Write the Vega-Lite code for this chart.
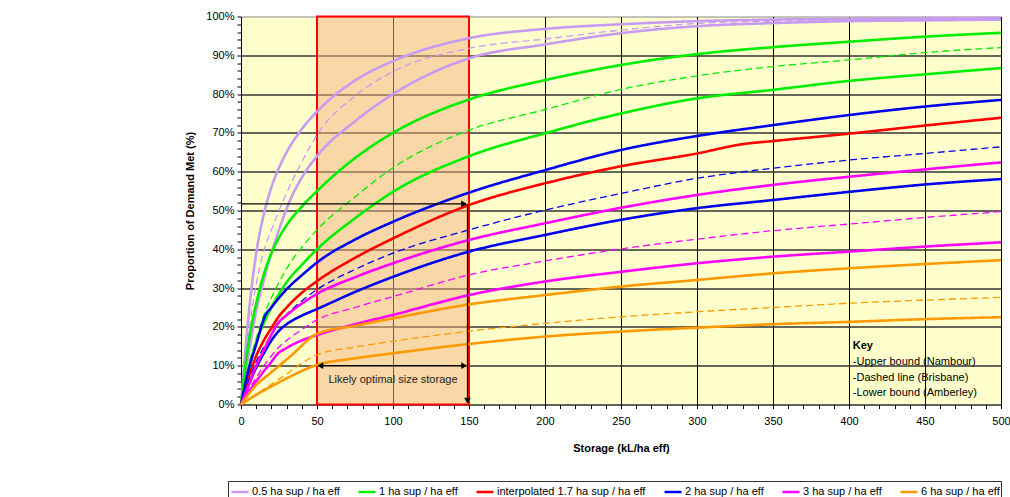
{
  "$schema": "https://vega.github.io/schema/vega-lite/v6.json",
  "width": 760,
  "height": 388,
  "autosize": {"type": "none"},
  "padding": {"left": 241, "top": 16.5, "right": 9, "bottom": 92.5},
  "background": "white",
  "config": {
    "font": "Liberation Sans",
    "view": {"fill": "#FFFFCC", "stroke": "#888888", "strokeWidth": 1}
  },
  "data": {"values": [{"a": 1}]},
  "layer": [
    {
      "mark": {"type": "rect", "fill": "#F5B07F", "fillOpacity": 0.5, "stroke": "#FF0000", "strokeWidth": 2},
      "encoding": {
        "x": {"datum": 50, "type": "quantitative", "scale": {"domain": [0, 500], "nice": false, "zero": false},
          "axis": {
            "title": "Storage (kL/ha eff)", "titleFontSize": 11, "titleFontWeight": "bold", "titleColor": "black", "titlePadding": 16,
            "values": [0,10,20,30,40,50,60,70,80,90,100,110,120,130,140,150,160,170,180,190,200,210,220,230,240,250,260,270,280,290,300,310,320,330,340,350,360,370,380,390,400,410,420,430,440,450,460,470,480,490,500],
            "tickCount": 200,
            "labelExpr": "datum.value % 50 === 0 ? datum.value : ''",
            "labelOverlap": false,
            "labelFontSize": 11, "labelColor": "black", "labelPadding": 7, "labelFlush": false,
            "tickSize": 4, "tickColor": "black", "domainColor": "black",
            "grid": true, "gridColor": "black", "gridWidth": 1,
            "gridOpacity": {"condition": {"test": "datum.value % 50 === 0", "value": 1}, "value": 0}
          }},
        "x2": {"datum": 150},
        "y": {"datum": 0, "type": "quantitative", "scale": {"domain": [0, 100], "nice": false},
          "axis": {
            "title": "Proportion of Demand Met (%)", "titleFontSize": 11, "titleFontWeight": "bold", "titleColor": "black", "titlePadding": 10,
            "values": [0,2,4,6,8,10,12,14,16,18,20,22,24,26,28,30,32,34,36,38,40,42,44,46,48,50,52,54,56,58,60,62,64,66,68,70,72,74,76,78,80,82,84,86,88,90,92,94,96,98,100],
            "tickCount": 200,
            "labelExpr": "datum.value % 10 === 0 ? datum.value + '%' : ''",
            "labelOverlap": false,
            "labelFontSize": 11, "labelColor": "black", "labelPadding": 3, "labelFlush": false,
            "tickSize": 4, "tickColor": "black", "domainColor": "black",
            "grid": true, "gridColor": "#333333", "gridWidth": 1.4,
            "gridOpacity": {"condition": {"test": "datum.value % 10 === 0 && datum.value > 0 && datum.value < 100", "value": 1}, "value": 0}
          }},
        "y2": {"datum": 100}
      }
    },
    {
      "data": {"values": [
        {"s":"0.5 ha sup / ha eff","b":"upper","x":0,"y":0},{"s":"0.5 ha sup / ha eff","b":"upper","x":5,"y":23},{"s":"0.5 ha sup / ha eff","b":"upper","x":10,"y":39},{"s":"0.5 ha sup / ha eff","b":"upper","x":15,"y":49},{"s":"0.5 ha sup / ha eff","b":"upper","x":20,"y":56},{"s":"0.5 ha sup / ha eff","b":"upper","x":25,"y":61},{"s":"0.5 ha sup / ha eff","b":"upper","x":30,"y":65},{"s":"0.5 ha sup / ha eff","b":"upper","x":40,"y":71},{"s":"0.5 ha sup / ha eff","b":"upper","x":50,"y":75.5},{"s":"0.5 ha sup / ha eff","b":"upper","x":75,"y":83.5},{"s":"0.5 ha sup / ha eff","b":"upper","x":100,"y":88.5},{"s":"0.5 ha sup / ha eff","b":"upper","x":150,"y":94.4},{"s":"0.5 ha sup / ha eff","b":"upper","x":200,"y":96.8},{"s":"0.5 ha sup / ha eff","b":"upper","x":250,"y":98},{"s":"0.5 ha sup / ha eff","b":"upper","x":300,"y":98.8},{"s":"0.5 ha sup / ha eff","b":"upper","x":350,"y":99.2},{"s":"0.5 ha sup / ha eff","b":"upper","x":400,"y":99.4},{"s":"0.5 ha sup / ha eff","b":"upper","x":450,"y":99.5},{"s":"0.5 ha sup / ha eff","b":"upper","x":500,"y":99.6},
        {"s":"0.5 ha sup / ha eff","b":"dashed","x":0,"y":0},{"s":"0.5 ha sup / ha eff","b":"dashed","x":5,"y":18},{"s":"0.5 ha sup / ha eff","b":"dashed","x":10,"y":31},{"s":"0.5 ha sup / ha eff","b":"dashed","x":15,"y":39.5},{"s":"0.5 ha sup / ha eff","b":"dashed","x":20,"y":45},{"s":"0.5 ha sup / ha eff","b":"dashed","x":25,"y":50},{"s":"0.5 ha sup / ha eff","b":"dashed","x":30,"y":54.5},{"s":"0.5 ha sup / ha eff","b":"dashed","x":40,"y":62.5},{"s":"0.5 ha sup / ha eff","b":"dashed","x":50,"y":69.5},{"s":"0.5 ha sup / ha eff","b":"dashed","x":75,"y":79.5},{"s":"0.5 ha sup / ha eff","b":"dashed","x":100,"y":85.8},{"s":"0.5 ha sup / ha eff","b":"dashed","x":150,"y":91.8},{"s":"0.5 ha sup / ha eff","b":"dashed","x":200,"y":94.2},{"s":"0.5 ha sup / ha eff","b":"dashed","x":250,"y":96.5},{"s":"0.5 ha sup / ha eff","b":"dashed","x":300,"y":98.2},{"s":"0.5 ha sup / ha eff","b":"dashed","x":350,"y":98.8},{"s":"0.5 ha sup / ha eff","b":"dashed","x":400,"y":99.1},{"s":"0.5 ha sup / ha eff","b":"dashed","x":450,"y":99.2},{"s":"0.5 ha sup / ha eff","b":"dashed","x":500,"y":99.3},
        {"s":"0.5 ha sup / ha eff","b":"lower","x":0,"y":0},{"s":"0.5 ha sup / ha eff","b":"lower","x":5,"y":13},{"s":"0.5 ha sup / ha eff","b":"lower","x":10,"y":24},{"s":"0.5 ha sup / ha eff","b":"lower","x":15,"y":32},{"s":"0.5 ha sup / ha eff","b":"lower","x":20,"y":39},{"s":"0.5 ha sup / ha eff","b":"lower","x":25,"y":45},{"s":"0.5 ha sup / ha eff","b":"lower","x":30,"y":50.5},{"s":"0.5 ha sup / ha eff","b":"lower","x":40,"y":58.5},{"s":"0.5 ha sup / ha eff","b":"lower","x":50,"y":64},{"s":"0.5 ha sup / ha eff","b":"lower","x":75,"y":73},{"s":"0.5 ha sup / ha eff","b":"lower","x":100,"y":80},{"s":"0.5 ha sup / ha eff","b":"lower","x":150,"y":89.2},{"s":"0.5 ha sup / ha eff","b":"lower","x":200,"y":92.8},{"s":"0.5 ha sup / ha eff","b":"lower","x":250,"y":95.7},{"s":"0.5 ha sup / ha eff","b":"lower","x":300,"y":97.5},{"s":"0.5 ha sup / ha eff","b":"lower","x":350,"y":98.3},{"s":"0.5 ha sup / ha eff","b":"lower","x":400,"y":98.8},{"s":"0.5 ha sup / ha eff","b":"lower","x":450,"y":99},{"s":"0.5 ha sup / ha eff","b":"lower","x":500,"y":99.2},
        {"s":"1 ha sup / ha eff","b":"upper","x":0,"y":0},{"s":"1 ha sup / ha eff","b":"upper","x":5,"y":16},{"s":"1 ha sup / ha eff","b":"upper","x":10,"y":26},{"s":"1 ha sup / ha eff","b":"upper","x":15,"y":33.5},{"s":"1 ha sup / ha eff","b":"upper","x":20,"y":39},{"s":"1 ha sup / ha eff","b":"upper","x":25,"y":43},{"s":"1 ha sup / ha eff","b":"upper","x":30,"y":46.2},{"s":"1 ha sup / ha eff","b":"upper","x":40,"y":51},{"s":"1 ha sup / ha eff","b":"upper","x":50,"y":55},{"s":"1 ha sup / ha eff","b":"upper","x":75,"y":63.5},{"s":"1 ha sup / ha eff","b":"upper","x":100,"y":70},{"s":"1 ha sup / ha eff","b":"upper","x":150,"y":78.6},{"s":"1 ha sup / ha eff","b":"upper","x":200,"y":83.6},{"s":"1 ha sup / ha eff","b":"upper","x":250,"y":87.5},{"s":"1 ha sup / ha eff","b":"upper","x":300,"y":90.3},{"s":"1 ha sup / ha eff","b":"upper","x":350,"y":92.1},{"s":"1 ha sup / ha eff","b":"upper","x":400,"y":93.5},{"s":"1 ha sup / ha eff","b":"upper","x":450,"y":94.8},{"s":"1 ha sup / ha eff","b":"upper","x":500,"y":95.8},
        {"s":"1 ha sup / ha eff","b":"dashed","x":0,"y":0},{"s":"1 ha sup / ha eff","b":"dashed","x":5,"y":10},{"s":"1 ha sup / ha eff","b":"dashed","x":10,"y":17},{"s":"1 ha sup / ha eff","b":"dashed","x":15,"y":23},{"s":"1 ha sup / ha eff","b":"dashed","x":20,"y":27.5},{"s":"1 ha sup / ha eff","b":"dashed","x":25,"y":31.5},{"s":"1 ha sup / ha eff","b":"dashed","x":30,"y":35},{"s":"1 ha sup / ha eff","b":"dashed","x":40,"y":40.5},{"s":"1 ha sup / ha eff","b":"dashed","x":50,"y":45},{"s":"1 ha sup / ha eff","b":"dashed","x":75,"y":53.5},{"s":"1 ha sup / ha eff","b":"dashed","x":100,"y":61},{"s":"1 ha sup / ha eff","b":"dashed","x":150,"y":70.7},{"s":"1 ha sup / ha eff","b":"dashed","x":200,"y":76},{"s":"1 ha sup / ha eff","b":"dashed","x":250,"y":81.2},{"s":"1 ha sup / ha eff","b":"dashed","x":300,"y":84.7},{"s":"1 ha sup / ha eff","b":"dashed","x":350,"y":87.1},{"s":"1 ha sup / ha eff","b":"dashed","x":400,"y":88.8},{"s":"1 ha sup / ha eff","b":"dashed","x":450,"y":90.7},{"s":"1 ha sup / ha eff","b":"dashed","x":500,"y":92},
        {"s":"1 ha sup / ha eff","b":"lower","x":0,"y":0},{"s":"1 ha sup / ha eff","b":"lower","x":5,"y":9},{"s":"1 ha sup / ha eff","b":"lower","x":10,"y":16},{"s":"1 ha sup / ha eff","b":"lower","x":15,"y":21},{"s":"1 ha sup / ha eff","b":"lower","x":20,"y":25},{"s":"1 ha sup / ha eff","b":"lower","x":25,"y":28.5},{"s":"1 ha sup / ha eff","b":"lower","x":30,"y":31.5},{"s":"1 ha sup / ha eff","b":"lower","x":40,"y":36},{"s":"1 ha sup / ha eff","b":"lower","x":50,"y":40},{"s":"1 ha sup / ha eff","b":"lower","x":75,"y":48},{"s":"1 ha sup / ha eff","b":"lower","x":100,"y":54.8},{"s":"1 ha sup / ha eff","b":"lower","x":150,"y":64},{"s":"1 ha sup / ha eff","b":"lower","x":200,"y":69.9},{"s":"1 ha sup / ha eff","b":"lower","x":250,"y":75},{"s":"1 ha sup / ha eff","b":"lower","x":300,"y":78.9},{"s":"1 ha sup / ha eff","b":"lower","x":350,"y":81.1},{"s":"1 ha sup / ha eff","b":"lower","x":400,"y":83.4},{"s":"1 ha sup / ha eff","b":"lower","x":450,"y":85.1},{"s":"1 ha sup / ha eff","b":"lower","x":500,"y":86.7},
        {"s":"interpolated 1.7 ha sup / ha eff","b":"upper","x":0,"y":0},{"s":"interpolated 1.7 ha sup / ha eff","b":"upper","x":5,"y":7},{"s":"interpolated 1.7 ha sup / ha eff","b":"upper","x":10,"y":12.5},{"s":"interpolated 1.7 ha sup / ha eff","b":"upper","x":15,"y":16.5},{"s":"interpolated 1.7 ha sup / ha eff","b":"upper","x":20,"y":19.7},{"s":"interpolated 1.7 ha sup / ha eff","b":"upper","x":24,"y":22.2},{"s":"interpolated 1.7 ha sup / ha eff","b":"upper","x":30,"y":25},{"s":"interpolated 1.7 ha sup / ha eff","b":"upper","x":40,"y":28.8},{"s":"interpolated 1.7 ha sup / ha eff","b":"upper","x":50,"y":31.8},{"s":"interpolated 1.7 ha sup / ha eff","b":"upper","x":75,"y":37.8},{"s":"interpolated 1.7 ha sup / ha eff","b":"upper","x":100,"y":42.8},{"s":"interpolated 1.7 ha sup / ha eff","b":"upper","x":150,"y":51.4},{"s":"interpolated 1.7 ha sup / ha eff","b":"upper","x":200,"y":57},{"s":"interpolated 1.7 ha sup / ha eff","b":"upper","x":250,"y":61.4},{"s":"interpolated 1.7 ha sup / ha eff","b":"upper","x":300,"y":64.7},{"s":"interpolated 1.7 ha sup / ha eff","b":"upper","x":330,"y":67.1},{"s":"interpolated 1.7 ha sup / ha eff","b":"upper","x":350,"y":67.9},{"s":"interpolated 1.7 ha sup / ha eff","b":"upper","x":400,"y":69.8},{"s":"interpolated 1.7 ha sup / ha eff","b":"upper","x":450,"y":71.9},{"s":"interpolated 1.7 ha sup / ha eff","b":"upper","x":500,"y":73.9},
        {"s":"2 ha sup / ha eff","b":"upper","x":0,"y":0},{"s":"2 ha sup / ha eff","b":"upper","x":5,"y":9},{"s":"2 ha sup / ha eff","b":"upper","x":10,"y":15.5},{"s":"2 ha sup / ha eff","b":"upper","x":16,"y":23},{"s":"2 ha sup / ha eff","b":"upper","x":20,"y":25},{"s":"2 ha sup / ha eff","b":"upper","x":25,"y":27.5},{"s":"2 ha sup / ha eff","b":"upper","x":30,"y":29.7},{"s":"2 ha sup / ha eff","b":"upper","x":40,"y":33.3},{"s":"2 ha sup / ha eff","b":"upper","x":50,"y":36.6},{"s":"2 ha sup / ha eff","b":"upper","x":75,"y":42.5},{"s":"2 ha sup / ha eff","b":"upper","x":100,"y":47.1},{"s":"2 ha sup / ha eff","b":"upper","x":150,"y":54.6},{"s":"2 ha sup / ha eff","b":"upper","x":200,"y":60.4},{"s":"2 ha sup / ha eff","b":"upper","x":250,"y":65.6},{"s":"2 ha sup / ha eff","b":"upper","x":300,"y":69.2},{"s":"2 ha sup / ha eff","b":"upper","x":350,"y":72},{"s":"2 ha sup / ha eff","b":"upper","x":400,"y":74.6},{"s":"2 ha sup / ha eff","b":"upper","x":450,"y":76.8},{"s":"2 ha sup / ha eff","b":"upper","x":500,"y":78.5},
        {"s":"2 ha sup / ha eff","b":"dashed","x":0,"y":0},{"s":"2 ha sup / ha eff","b":"dashed","x":5,"y":6},{"s":"2 ha sup / ha eff","b":"dashed","x":10,"y":11},{"s":"2 ha sup / ha eff","b":"dashed","x":15,"y":14.8},{"s":"2 ha sup / ha eff","b":"dashed","x":20,"y":18},{"s":"2 ha sup / ha eff","b":"dashed","x":25,"y":21},{"s":"2 ha sup / ha eff","b":"dashed","x":30,"y":23.2},{"s":"2 ha sup / ha eff","b":"dashed","x":40,"y":26.7},{"s":"2 ha sup / ha eff","b":"dashed","x":50,"y":29.6},{"s":"2 ha sup / ha eff","b":"dashed","x":75,"y":34.8},{"s":"2 ha sup / ha eff","b":"dashed","x":100,"y":39},{"s":"2 ha sup / ha eff","b":"dashed","x":150,"y":45},{"s":"2 ha sup / ha eff","b":"dashed","x":200,"y":50.1},{"s":"2 ha sup / ha eff","b":"dashed","x":250,"y":54.4},{"s":"2 ha sup / ha eff","b":"dashed","x":300,"y":58.3},{"s":"2 ha sup / ha eff","b":"dashed","x":350,"y":60.9},{"s":"2 ha sup / ha eff","b":"dashed","x":400,"y":63},{"s":"2 ha sup / ha eff","b":"dashed","x":450,"y":64.7},{"s":"2 ha sup / ha eff","b":"dashed","x":500,"y":66.4},
        {"s":"2 ha sup / ha eff","b":"lower","x":0,"y":0},{"s":"2 ha sup / ha eff","b":"lower","x":5,"y":5},{"s":"2 ha sup / ha eff","b":"lower","x":10,"y":9.5},{"s":"2 ha sup / ha eff","b":"lower","x":15,"y":13.2},{"s":"2 ha sup / ha eff","b":"lower","x":20,"y":16.5},{"s":"2 ha sup / ha eff","b":"lower","x":25,"y":19},{"s":"2 ha sup / ha eff","b":"lower","x":30,"y":20.7},{"s":"2 ha sup / ha eff","b":"lower","x":40,"y":22.9},{"s":"2 ha sup / ha eff","b":"lower","x":50,"y":24.6},{"s":"2 ha sup / ha eff","b":"lower","x":75,"y":29},{"s":"2 ha sup / ha eff","b":"lower","x":100,"y":32.9},{"s":"2 ha sup / ha eff","b":"lower","x":150,"y":39.4},{"s":"2 ha sup / ha eff","b":"lower","x":200,"y":43.7},{"s":"2 ha sup / ha eff","b":"lower","x":250,"y":47.6},{"s":"2 ha sup / ha eff","b":"lower","x":300,"y":50.6},{"s":"2 ha sup / ha eff","b":"lower","x":350,"y":52.7},{"s":"2 ha sup / ha eff","b":"lower","x":400,"y":54.8},{"s":"2 ha sup / ha eff","b":"lower","x":450,"y":56.7},{"s":"2 ha sup / ha eff","b":"lower","x":500,"y":58.1},
        {"s":"3 ha sup / ha eff","b":"upper","x":0,"y":0},{"s":"3 ha sup / ha eff","b":"upper","x":5,"y":5},{"s":"3 ha sup / ha eff","b":"upper","x":10,"y":10},{"s":"3 ha sup / ha eff","b":"upper","x":15,"y":14},{"s":"3 ha sup / ha eff","b":"upper","x":20,"y":18},{"s":"3 ha sup / ha eff","b":"upper","x":24,"y":20.8},{"s":"3 ha sup / ha eff","b":"upper","x":30,"y":23},{"s":"3 ha sup / ha eff","b":"upper","x":40,"y":26},{"s":"3 ha sup / ha eff","b":"upper","x":50,"y":28.5},{"s":"3 ha sup / ha eff","b":"upper","x":75,"y":32.8},{"s":"3 ha sup / ha eff","b":"upper","x":100,"y":36.4},{"s":"3 ha sup / ha eff","b":"upper","x":150,"y":42.4},{"s":"3 ha sup / ha eff","b":"upper","x":200,"y":46.7},{"s":"3 ha sup / ha eff","b":"upper","x":250,"y":50.7},{"s":"3 ha sup / ha eff","b":"upper","x":300,"y":54},{"s":"3 ha sup / ha eff","b":"upper","x":350,"y":56.6},{"s":"3 ha sup / ha eff","b":"upper","x":400,"y":58.7},{"s":"3 ha sup / ha eff","b":"upper","x":450,"y":60.6},{"s":"3 ha sup / ha eff","b":"upper","x":500,"y":62.4},
        {"s":"3 ha sup / ha eff","b":"dashed","x":0,"y":0},{"s":"3 ha sup / ha eff","b":"dashed","x":10,"y":7},{"s":"3 ha sup / ha eff","b":"dashed","x":20,"y":12.5},{"s":"3 ha sup / ha eff","b":"dashed","x":25,"y":14.8},{"s":"3 ha sup / ha eff","b":"dashed","x":30,"y":16.5},{"s":"3 ha sup / ha eff","b":"dashed","x":40,"y":19.3},{"s":"3 ha sup / ha eff","b":"dashed","x":50,"y":21.8},{"s":"3 ha sup / ha eff","b":"dashed","x":75,"y":25},{"s":"3 ha sup / ha eff","b":"dashed","x":100,"y":27.8},{"s":"3 ha sup / ha eff","b":"dashed","x":150,"y":33.4},{"s":"3 ha sup / ha eff","b":"dashed","x":200,"y":37},{"s":"3 ha sup / ha eff","b":"dashed","x":250,"y":40.1},{"s":"3 ha sup / ha eff","b":"dashed","x":300,"y":42.6},{"s":"3 ha sup / ha eff","b":"dashed","x":350,"y":44.8},{"s":"3 ha sup / ha eff","b":"dashed","x":400,"y":46.5},{"s":"3 ha sup / ha eff","b":"dashed","x":450,"y":48.2},{"s":"3 ha sup / ha eff","b":"dashed","x":500,"y":49.7},
        {"s":"3 ha sup / ha eff","b":"lower","x":0,"y":0},{"s":"3 ha sup / ha eff","b":"lower","x":10,"y":6},{"s":"3 ha sup / ha eff","b":"lower","x":20,"y":11},{"s":"3 ha sup / ha eff","b":"lower","x":24,"y":13},{"s":"3 ha sup / ha eff","b":"lower","x":30,"y":14.6},{"s":"3 ha sup / ha eff","b":"lower","x":40,"y":16.5},{"s":"3 ha sup / ha eff","b":"lower","x":50,"y":17.9},{"s":"3 ha sup / ha eff","b":"lower","x":75,"y":20.7},{"s":"3 ha sup / ha eff","b":"lower","x":100,"y":23.1},{"s":"3 ha sup / ha eff","b":"lower","x":150,"y":28.2},{"s":"3 ha sup / ha eff","b":"lower","x":200,"y":31.7},{"s":"3 ha sup / ha eff","b":"lower","x":250,"y":34.2},{"s":"3 ha sup / ha eff","b":"lower","x":300,"y":36.4},{"s":"3 ha sup / ha eff","b":"lower","x":350,"y":38.1},{"s":"3 ha sup / ha eff","b":"lower","x":400,"y":39.4},{"s":"3 ha sup / ha eff","b":"lower","x":450,"y":40.7},{"s":"3 ha sup / ha eff","b":"lower","x":500,"y":41.8},
        {"s":"6 ha sup / ha eff","b":"upper","x":0,"y":0},{"s":"6 ha sup / ha eff","b":"upper","x":9,"y":4.6},{"s":"6 ha sup / ha eff","b":"upper","x":20,"y":8.3},{"s":"6 ha sup / ha eff","b":"upper","x":33,"y":12.6},{"s":"6 ha sup / ha eff","b":"upper","x":50,"y":18.2},{"s":"6 ha sup / ha eff","b":"upper","x":75,"y":20.3},{"s":"6 ha sup / ha eff","b":"upper","x":100,"y":22.2},{"s":"6 ha sup / ha eff","b":"upper","x":150,"y":25.8},{"s":"6 ha sup / ha eff","b":"upper","x":200,"y":28.2},{"s":"6 ha sup / ha eff","b":"upper","x":250,"y":30.4},{"s":"6 ha sup / ha eff","b":"upper","x":300,"y":32.1},{"s":"6 ha sup / ha eff","b":"upper","x":350,"y":33.8},{"s":"6 ha sup / ha eff","b":"upper","x":400,"y":35.1},{"s":"6 ha sup / ha eff","b":"upper","x":450,"y":36.2},{"s":"6 ha sup / ha eff","b":"upper","x":500,"y":37.2},
        {"s":"6 ha sup / ha eff","b":"dashed","x":0,"y":0},{"s":"6 ha sup / ha eff","b":"dashed","x":25,"y":6.5},{"s":"6 ha sup / ha eff","b":"dashed","x":50,"y":12.8},{"s":"6 ha sup / ha eff","b":"dashed","x":75,"y":14.8},{"s":"6 ha sup / ha eff","b":"dashed","x":100,"y":16.3},{"s":"6 ha sup / ha eff","b":"dashed","x":150,"y":18.9},{"s":"6 ha sup / ha eff","b":"dashed","x":200,"y":20.9},{"s":"6 ha sup / ha eff","b":"dashed","x":250,"y":22.6},{"s":"6 ha sup / ha eff","b":"dashed","x":300,"y":23.9},{"s":"6 ha sup / ha eff","b":"dashed","x":350,"y":25},{"s":"6 ha sup / ha eff","b":"dashed","x":400,"y":26.1},{"s":"6 ha sup / ha eff","b":"dashed","x":450,"y":26.9},{"s":"6 ha sup / ha eff","b":"dashed","x":500,"y":27.6},
        {"s":"6 ha sup / ha eff","b":"lower","x":0,"y":0},{"s":"6 ha sup / ha eff","b":"lower","x":10,"y":2.5},{"s":"6 ha sup / ha eff","b":"lower","x":25,"y":5.7},{"s":"6 ha sup / ha eff","b":"lower","x":50,"y":10.2},{"s":"6 ha sup / ha eff","b":"lower","x":75,"y":11.9},{"s":"6 ha sup / ha eff","b":"lower","x":100,"y":13.2},{"s":"6 ha sup / ha eff","b":"lower","x":150,"y":15.6},{"s":"6 ha sup / ha eff","b":"lower","x":200,"y":17.5},{"s":"6 ha sup / ha eff","b":"lower","x":250,"y":18.8},{"s":"6 ha sup / ha eff","b":"lower","x":300,"y":19.8},{"s":"6 ha sup / ha eff","b":"lower","x":350,"y":20.7},{"s":"6 ha sup / ha eff","b":"lower","x":400,"y":21.3},{"s":"6 ha sup / ha eff","b":"lower","x":450,"y":22},{"s":"6 ha sup / ha eff","b":"lower","x":500,"y":22.5}
      ]},
      "mark": {"type": "line", "interpolate": "monotone"},
      "encoding": {
        "x": {"field": "x", "type": "quantitative"},
        "y": {"field": "y", "type": "quantitative"},
        "color": {"field": "s", "type": "nominal",
          "scale": {"domain": ["0.5 ha sup / ha eff", "1 ha sup / ha eff", "interpolated 1.7 ha sup / ha eff", "2 ha sup / ha eff", "3 ha sup / ha eff", "6 ha sup / ha eff"],
                    "range": ["#C79BF2", "#00EE00", "#FF0000", "#0000F0", "#FF00FF", "#FF9900"]},
          "legend": {"orient": "none", "legendX": -13, "legendY": 464.5, "direction": "horizontal", "columns": 6, "title": null,
            "symbolType": "stroke", "symbolSize": 289, "symbolStrokeWidth": 2.5, "labelFontSize": 11, "labelColor": "black",
            "labelOffset": 2, "columnPadding": 13, "padding": 1, "strokeColor": "#333333", "fillColor": "white", "symbolOffset": 1}},
        "strokeDash": {"field": "b", "type": "nominal", "scale": {"type": "ordinal", "domain": ["upper", "dashed", "lower"], "range": [[1, 0], [7, 4], [1, 0]]}, "legend": null},
        "strokeWidth": {"field": "b", "type": "nominal", "scale": {"type": "ordinal", "domain": ["upper", "dashed", "lower"], "range": [2.6, 1.3, 2.6]}, "legend": null}
      }
    },
    {"mark": {"type": "rule", "color": "black", "strokeWidth": 1.2}, "encoding": {"x": {"datum": 0}, "x2": {"datum": 148}, "y": {"datum": 51.7}}},
    {"mark": {"type": "rule", "color": "black", "strokeWidth": 1.2}, "encoding": {"x": {"datum": 149}, "y": {"datum": 51.7}, "y2": {"datum": 1}}},
    {"mark": {"type": "rule", "color": "black", "strokeWidth": 1.2}, "encoding": {"x": {"datum": 52}, "x2": {"datum": 147}, "y": {"datum": 10}}},
    {"mark": {"type": "point", "shape": "triangle-right", "filled": true, "color": "black", "opacity": 1, "size": 45}, "encoding": {"x": {"datum": 146.8}, "y": {"datum": 51.7}}},
    {"mark": {"type": "point", "shape": "triangle-right", "filled": true, "color": "black", "opacity": 1, "size": 45}, "encoding": {"x": {"datum": 146.8}, "y": {"datum": 10}}},
    {"mark": {"type": "point", "shape": "triangle-left", "filled": true, "color": "black", "opacity": 1, "size": 45}, "encoding": {"x": {"datum": 52.2}, "y": {"datum": 10}}},
    {"mark": {"type": "point", "shape": "triangle-down", "filled": true, "color": "black", "opacity": 1, "size": 45}, "encoding": {"x": {"datum": 149}, "y": {"datum": 1}}},
    {"mark": {"type": "text", "fontSize": 11, "color": "#222222", "align": "center", "baseline": "middle"}, "encoding": {"x": {"datum": 100}, "y": {"datum": 6.3}, "text": {"value": "Likely optimal size storage"}}},
    {"mark": {"type": "text", "fontSize": 11, "fontWeight": "bold", "color": "black", "align": "left", "baseline": "middle"}, "encoding": {"x": {"datum": 402.5}, "y": {"datum": 15}, "text": {"value": "Key"}}},
    {"mark": {"type": "text", "fontSize": 11, "color": "black", "align": "left", "baseline": "middle"}, "encoding": {"x": {"datum": 402.5}, "y": {"datum": 11}, "text": {"value": "-Upper bound (Nambour)"}}},
    {"mark": {"type": "text", "fontSize": 11, "color": "black", "align": "left", "baseline": "middle"}, "encoding": {"x": {"datum": 402.5}, "y": {"datum": 6.9}, "text": {"value": "-Dashed line (Brisbane)"}}},
    {"mark": {"type": "text", "fontSize": 11, "color": "black", "align": "left", "baseline": "middle"}, "encoding": {"x": {"datum": 402.5}, "y": {"datum": 3}, "text": {"value": "-Lower bound (Amberley)"}}}
  ]
}
